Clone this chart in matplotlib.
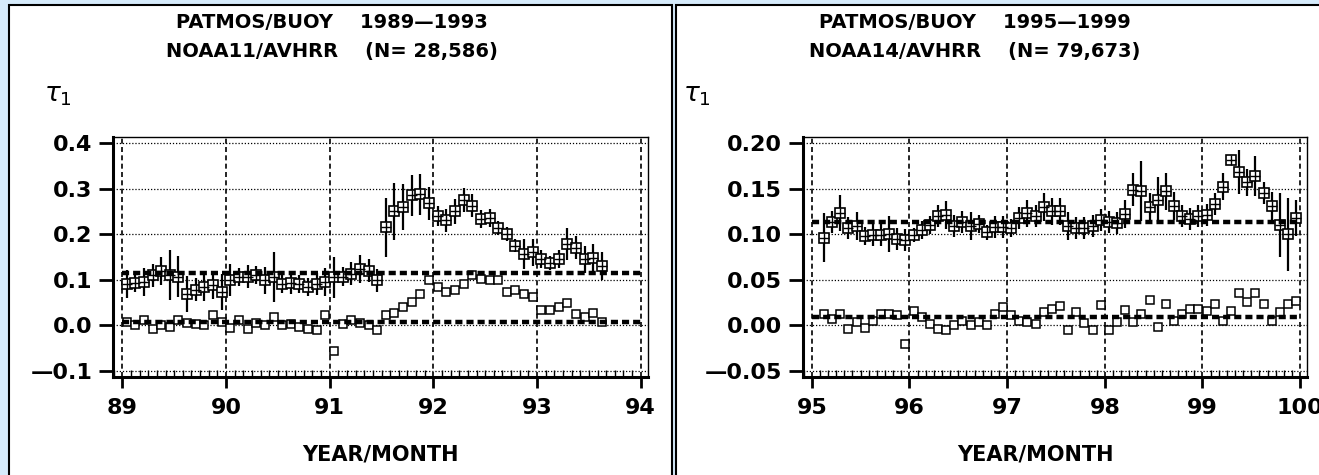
# -------------------------------------
# PATMOS / BUOY aerosol optical depth comparison (NOAA11 and NOAA14)
# -------------------------------------

import numpy as np
import matplotlib.pyplot as plt
from matplotlib.patches import Rectangle
from matplotlib.ticker import MultipleLocator, FuncFormatter

# -----------------------------
# 1. Data (monthly values)
# -----------------------------
left_start = 89 + 0.5 / 12
left_upper = [0.091, 0.093, 0.095, 0.110, 0.119, 0.110, 0.107, 0.069, 0.078, 0.084,
              0.088, 0.073, 0.100, 0.106, 0.107, 0.110, 0.099, 0.106, 0.091, 0.093,
              0.091, 0.084, 0.091, 0.095, 0.106, 0.107, 0.113, 0.124, 0.120, 0.099,
              0.215, 0.250, 0.260, 0.285, 0.287, 0.268, 0.240, 0.230, 0.250, 0.275,
              0.262, 0.233, 0.235, 0.213, 0.200, 0.175, 0.157, 0.160, 0.145, 0.137,
              0.146, 0.178, 0.170, 0.145, 0.148, 0.130]
left_err = [0.030, 0.020, 0.030, 0.025, 0.030, 0.055, 0.045, 0.040, 0.025, 0.030,
            0.030, 0.040, 0.035, 0.020, 0.025, 0.020, 0.030, 0.055, 0.020, 0.025,
            0.020, 0.020, 0.025, 0.030, 0.045, 0.020, 0.025, 0.030, 0.025, 0.025,
            0.065, 0.062, 0.050, 0.045, 0.045, 0.036, 0.022, 0.025, 0.027, 0.026,
            0.025, 0.020, 0.020, 0.015, 0.015, 0.015, 0.033, 0.030, 0.020, 0.015,
            0.020, 0.035, 0.025, 0.030, 0.030, 0.030]
left_lower = [0.007, 0.000, 0.011, -0.007, 0.000, -0.004, 0.013, 0.005, 0.003, 0.000,
              0.022, 0.007, -0.005, 0.011, -0.007, 0.005, 0.002, 0.018, 0.000, 0.004,
              -0.004, -0.007, -0.009, 0.022, -0.055, 0.004, 0.013, 0.005, 0.000, -0.011,
              0.022, 0.027, 0.040, 0.051, 0.069, 0.100, 0.084, 0.073, 0.077, 0.090,
              0.110, 0.102, 0.100, 0.099, 0.073, 0.077, 0.068, 0.062, 0.034, 0.034,
              0.040, 0.049, 0.026, 0.018, 0.027, 0.007]
left_refs = [0.115, 0.008]
left_years = [89, 90, 91, 92, 93, 94]
left_yticks = [-0.1, 0.0, 0.1, 0.2, 0.3, 0.4]

right_start = 95 + 1.5 / 12
right_upper = [0.096, 0.113, 0.123, 0.107, 0.109, 0.098, 0.099, 0.099, 0.100, 0.095,
               0.094, 0.099, 0.105, 0.110, 0.120, 0.121, 0.109, 0.113, 0.109, 0.111,
               0.102, 0.108, 0.108, 0.107, 0.118, 0.123, 0.120, 0.130, 0.125, 0.125,
               0.109, 0.107, 0.107, 0.109, 0.116, 0.113, 0.112, 0.122, 0.149, 0.147,
               0.130, 0.138, 0.147, 0.131, 0.120, 0.117, 0.120, 0.121, 0.133, 0.152,
               0.181, 0.168, 0.157, 0.164, 0.145, 0.131, 0.110, 0.100, 0.118]
right_err = [0.027, 0.012, 0.020, 0.012, 0.015, 0.010, 0.012, 0.012, 0.020, 0.012,
             0.012, 0.008, 0.010, 0.010, 0.012, 0.015, 0.012, 0.012, 0.015, 0.010,
             0.008, 0.012, 0.012, 0.010, 0.012, 0.015, 0.012, 0.015, 0.015, 0.015,
             0.015, 0.012, 0.012, 0.012, 0.012, 0.012, 0.012, 0.015, 0.018, 0.033,
             0.015, 0.025, 0.020, 0.015, 0.012, 0.012, 0.012, 0.012, 0.012, 0.015,
             0.000, 0.024, 0.015, 0.022, 0.012, 0.015, 0.035, 0.040, 0.020]
right_lower = [0.013, 0.007, 0.013, -0.004, 0.004, -0.003, 0.005, 0.013, 0.013, 0.011,
               -0.020, 0.016, 0.009, 0.001, -0.004, -0.005, 0.000, 0.005, 0.000, 0.004,
               0.000, 0.013, 0.020, 0.011, 0.005, 0.004, 0.002, 0.015, 0.018, 0.021,
               -0.005, 0.015, 0.003, -0.005, 0.022, -0.005, 0.004, 0.017, 0.004, 0.013,
               0.028, -0.002, 0.024, 0.005, 0.013, 0.018, 0.018, 0.016, 0.024, 0.005,
               0.016, 0.035, 0.026, 0.036, 0.023, 0.005, 0.015, 0.024, 0.027]
right_refs = [0.113, 0.009]
right_years = [95, 96, 97, 98, 99, 100]
right_yticks = [-0.05, 0.00, 0.05, 0.10, 0.15, 0.20]

left_title = ["PATMOS/BUOY    1989\u20141993", "NOAA11/AVHRR    (N= 28,586)"]
right_title = ["PATMOS/BUOY    1995\u20141999", "NOAA14/AVHRR    (N= 79,673)"]

# -----------------------------
# 2. Figure setup
# -----------------------------
W, H = 1319, 475
fig = plt.figure(figsize=(W / 100, H / 100), dpi=100, facecolor="#d6ebfb")


def fx(x):
    return x / W


def fy(y):
    return 1 - y / H


# white panels with black border
for x0, x1 in [(9, 672), (676, 1340)]:
    fig.patches.append(Rectangle((fx(x0), fy(H + 20)), fx(x1) - fx(x0), fy(5) - fy(H + 20),
                                 transform=fig.transFigure, facecolor="white",
                                 edgecolor="black", lw=1.5, zorder=-5))


def tick_text(decimals):
    # long dash for the minus sign, as in the original
    def f(v, pos):
        s = f"{abs(v):.{decimals}f}"
        return "\u2014" + s if v < -1e-9 else s
    return FuncFormatter(f)


def draw_panel(ax, start, upper, err, lower, refs, years, yticks, decimals, ylim):
    x = start + np.arange(len(upper)) / 12
    ax.errorbar(x, upper, yerr=err, fmt="none", ecolor="black", elinewidth=1.6, zorder=3)
    ax.plot(x, upper, "s", mfc="white", mec="black", ms=7, mew=1.2, zorder=4)
    ax.plot(x, upper, "+", color="black", ms=7, mew=1.0, zorder=5)
    ax.plot(x, lower, "s", mfc="white", mec="black", ms=5.2, mew=1.1, zorder=4)
    for r in refs:
        ax.plot([years[0], years[-1]], [r, r], color="black", lw=3.2,
                dashes=(1.6, 0.9), zorder=6)

    ax.set_xlim(years[0] - 0.09, years[-1] + 0.07)
    ax.set_ylim(ylim)
    ax.set_xticks(years)
    ax.set_xticklabels([str(y) for y in years])
    ax.xaxis.set_minor_locator(MultipleLocator(1 / 12))
    ax.set_yticks(yticks)
    ax.yaxis.set_major_formatter(tick_text(decimals))

    ax.grid(axis="y", color="black", lw=0.9, ls=(0, (1, 1.5)))
    ax.grid(axis="x", color="black", lw=1.2, ls=(0, (3, 2)))
    ax.set_axisbelow(True)

    ax.tick_params(axis="y", direction="out", length=10, width=2, pad=5, labelsize=16)
    ax.tick_params(axis="x", which="major", direction="out", length=8, width=2,
                   pad=7, labelsize=16)
    ax.tick_params(axis="x", which="minor", direction="in", length=5, width=1)
    for lab in ax.get_xticklabels() + ax.get_yticklabels():
        lab.set_fontweight("bold")
    ax.spines["left"].set_linewidth(2.2)
    ax.spines["bottom"].set_linewidth(2.2)
    ax.spines["top"].set_linewidth(1.0)
    ax.spines["right"].set_linewidth(1.0)
    ax.set_facecolor("white")


# -----------------------------
# 3. Panels
# -----------------------------
ax1 = fig.add_axes([fx(113), fy(377), fx(648) - fx(113), fy(137) - fy(377)])
draw_panel(ax1, left_start, left_upper, left_err, left_lower, left_refs,
           left_years, left_yticks, 1, (-0.113, 0.413))

ax2 = fig.add_axes([fx(803), fy(377), fx(1307) - fx(803), fy(137) - fy(377)])
draw_panel(ax2, right_start, right_upper, right_err, right_lower, right_refs,
           right_years, right_yticks, 2, (-0.0566, 0.2066))

# -----------------------------
# 4. Text
# -----------------------------
for cx, tau_x, xl_x, lines in [(332, 58, 380, left_title), (975, 697, 1035, right_title)]:
    fig.text(fx(cx), fy(22), lines[0], ha="center", va="center", fontsize=14, fontweight="bold")
    fig.text(fx(cx), fy(51), lines[1], ha="center", va="center", fontsize=14, fontweight="bold")
    fig.text(fx(tau_x), fy(95), r"$\tau_1$", ha="center", va="center", fontsize=19)
    fig.text(fx(xl_x), fy(454), "YEAR/MONTH", ha="center", va="center", fontsize=15,
             fontweight="bold")

fig.savefig("out.png", dpi=100, facecolor=fig.get_facecolor())
